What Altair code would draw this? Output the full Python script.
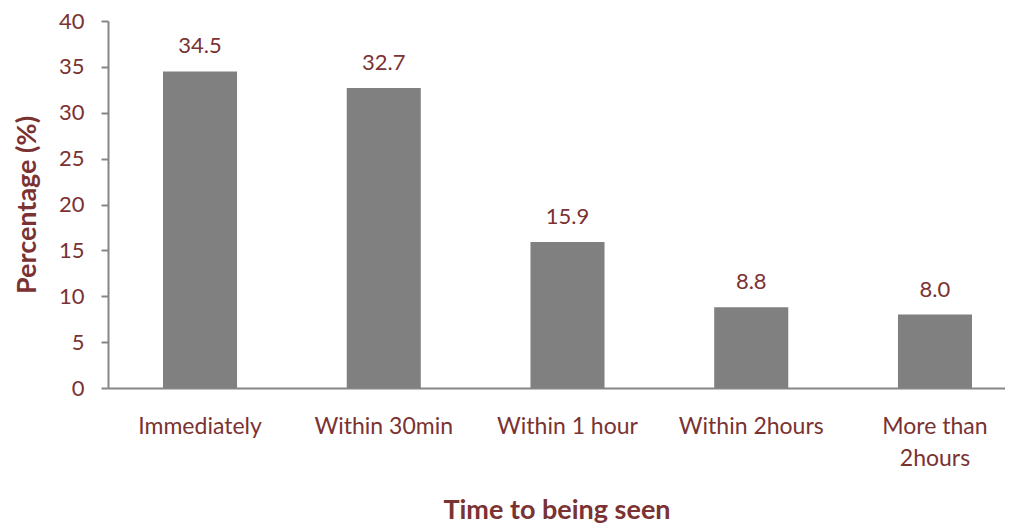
import altair as alt
import pandas as pd

categories = ["Immediately", "Within 30min", "Within 1 hour", "Within 2hours", "More than 2hours"]
values = [34.5, 32.7, 15.9, 8.8, 8.0]
y_ticks = [0, 5, 10, 15, 20, 25, 30, 35, 40]

df = pd.DataFrame({"cat": categories, "val": values})

TXT = "#7a3232"
AX = "#868686"
FONT = "Lato"

x_enc = alt.X(
    "cat:N", sort=categories,
    scale=alt.Scale(paddingInner=0.597, paddingOuter=0.2395, align=0.625),
    axis=alt.Axis(
        title="Time to being seen", titleFont=FONT, titleFontSize=27, titleFontWeight="bold",
        titleColor=TXT, titleY=122, titleBaseline="middle",
        labelFont=FONT, labelFontSize=23, labelColor=TXT, labelAngle=0, labelPadding=27,
        labelLineHeight=32,
        labelExpr="datum.label == 'More than 2hours' ? ['More than', '2hours'] : datum.label",
        ticks=False, domainColor=AX, domainWidth=2, grid=False,
    ),
)

bars = alt.Chart(df).mark_bar(color="#808080").encode(
    x=x_enc,
    y=alt.Y("val:Q", scale=alt.Scale(domain=[0, 40], nice=False),
            axis=alt.Axis(title="Percentage (%)", titleFont=FONT, titleFontSize=27,
                          titleFontWeight="bold", titleColor=TXT, titleX=-81,
                          titleBaseline="middle",
                          values=y_ticks, labelFont=FONT, labelFontSize=22, labelColor=TXT,
                          labelPadding=17, tickSize=7, tickColor=AX, tickWidth=2,
                          domainColor=AX, domainWidth=2, grid=False)),
)

labels = alt.Chart(df).mark_text(baseline="bottom", dy=-13, font=FONT, fontSize=22, color=TXT).encode(
    x=alt.X("cat:N", sort=categories),
    y="val:Q",
    text=alt.Text("val:Q", format=".1f"),
)

chart = (bars + labels).properties(
    width=897, height=367,
    autosize=alt.AutoSizeParams(type="none"),
    padding={"left": 100, "top": 13, "right": 0, "bottom": 138},
).configure_view(stroke=None)

chart.save("out.html", embed_options={"renderer": "svg", "actions": False})
